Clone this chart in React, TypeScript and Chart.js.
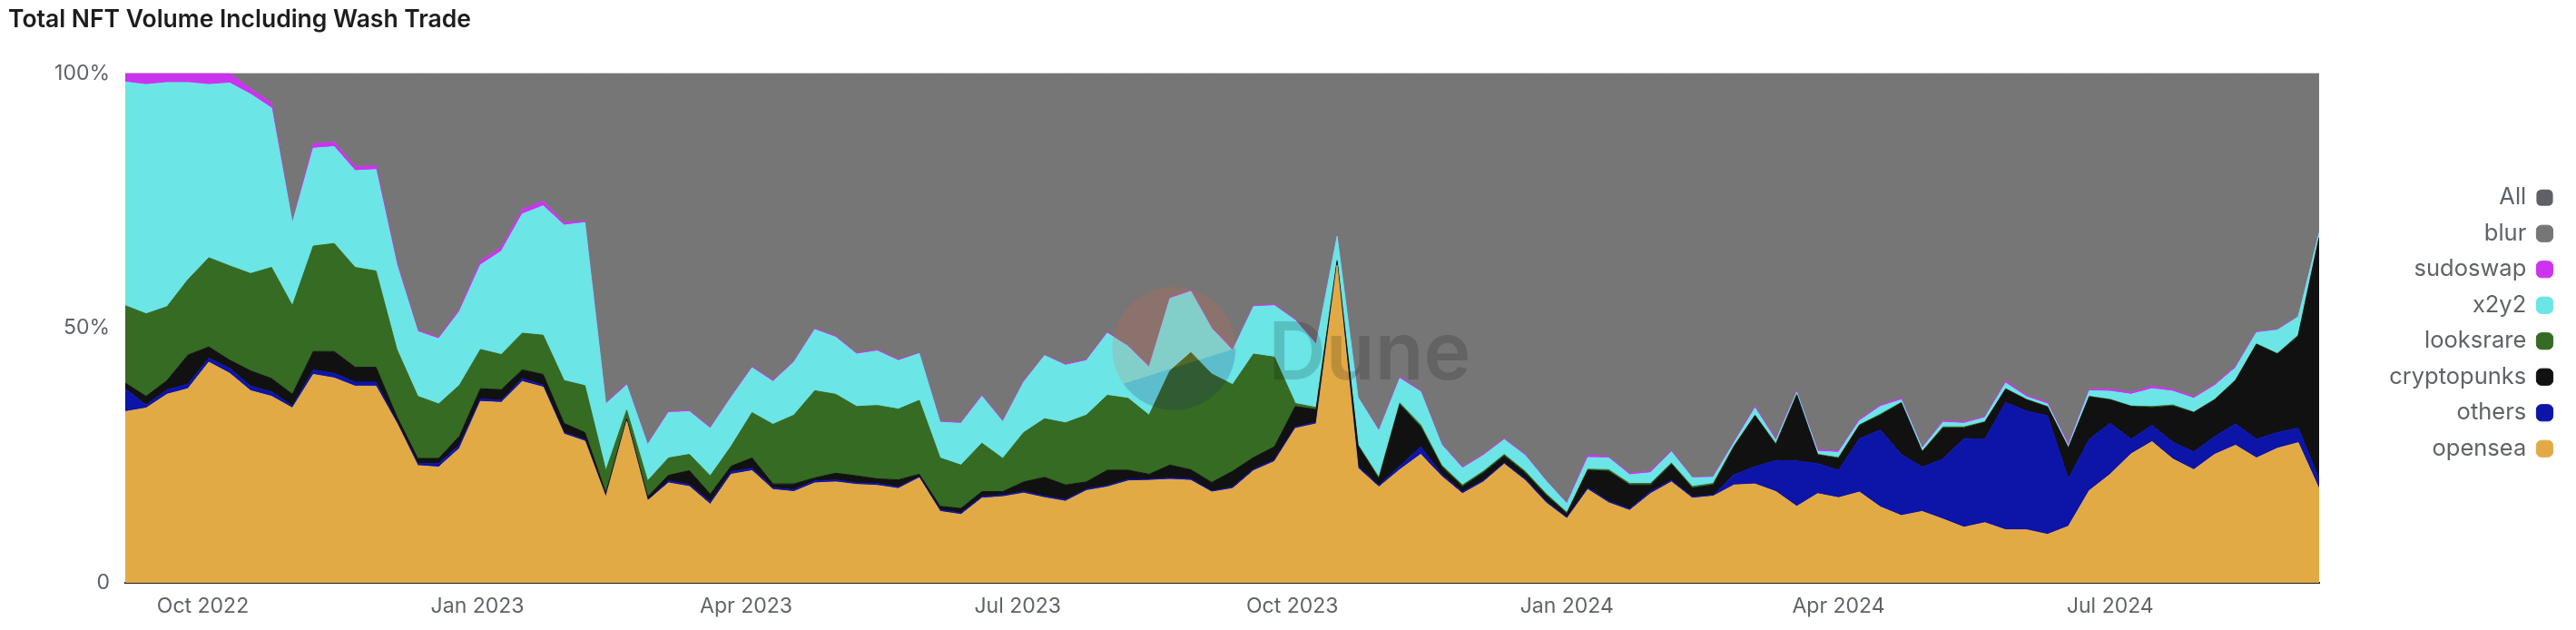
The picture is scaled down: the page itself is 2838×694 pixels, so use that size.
import React, { useEffect, useRef } from "react";
import { Chart, registerables } from "chart.js";

Chart.register(...registerables);

const TITLE = "Total NFT Volume Including Wash Trade";

// weekly categories (Monday of each week)
const FIRST_WEEK = Date.UTC(2022, 8, 5);
const WEEKS: string[] = Array.from({ length: 106 }, (_, i) =>
  new Date(FIRST_WEEK + i * 7 * 86400000).toISOString().slice(0, 10)
);

const X_TICK_DATES = ["2022-10-01", "2023-01-01", "2023-04-01", "2023-07-01", "2023-10-01", "2024-01-01", "2024-04-01", "2024-07-01"];
const X_TICK_LABELS = ["Oct 2022", "Jan 2023", "Apr 2023", "Jul 2023", "Oct 2023", "Jan 2024", "Apr 2024", "Jul 2024"];
const Y_TICK_VALUES = [0, 50, 100];
const Y_TICK_LABELS = ["0", "50%", "100%"];

// share of weekly volume (%)
const OPENSEA = [
  33.6, 34.3, 37.0, 38.1, 43.3, 41.1, 37.7, 36.6, 34.3, 40.9,
  40.2, 38.6, 38.6, 31.3, 23.0, 22.7, 26.4, 35.6, 35.4, 39.5,
  38.4, 29.2, 27.8, 16.8, 31.7, 16.1, 19.6, 18.9, 15.4, 21.3,
  22.0, 18.3, 17.9, 19.6, 19.8, 19.3, 19.1, 18.5, 20.6, 14.0,
  13.4, 16.6, 16.9, 17.6, 16.7, 16.0, 18.1, 18.8, 20.0, 20.1,
  20.3, 20.1, 17.8, 18.5, 22.0, 23.8, 30.3, 31.2, 62.3, 22.5,
  18.8, 22.2, 25.2, 20.9, 17.5, 19.8, 23.3, 20.1, 15.7, 12.6,
  18.3, 15.7, 14.2, 17.5, 19.8, 16.6, 17.0, 19.2, 19.4, 17.9,
  15.0, 17.5, 16.7, 17.8, 14.9, 13.2, 14.0, 12.5, 10.9, 11.8,
  10.4, 10.4, 9.5, 11.1, 18.1, 21.3, 25.3, 27.7, 24.3, 22.2,
  25.2, 27.0, 24.5, 26.4, 27.5, 18.4,
];
const OTHERS = [
  4.5, 0.6, 0.9, 0.9, 0.8, 1.0, 0.9, 0.9, 0.4, 0.9,
  0.9, 0.8, 0.8, 0.3, 0.4, 0.7, 0.7, 0.5, 0.4, 0.6,
  0.4, 0.3, 0.3, 0.2, 0.2, 0.1, 0.4, 0.4, 0.5, 0.5,
  0.5, 0.3, 0.4, 0.4, 0.4, 0.3, 0.4, 0.3, 0.2, 0.3,
  0.3, 0.3, 0.3, 0.3, 0.3, 0.3, 0.3, 0.3, 0.3, 0.2,
  0.3, 0.3, 0.2, 0.3, 0.3, 0.3, 0.3, 0.3, 0.3, 0.4,
  0.3, 0.7, 1.5, 0.4, 0.3, 0.3, 0.2, 0.3, 0.3, 0.2,
  0.3, 0.3, 0.3, 0.4, 0.3, 0.3, 0.2, 2.0, 3.4, 6.1,
  8.9, 5.9, 5.4, 10.5, 15.1, 12.0, 8.7, 11.8, 17.4, 16.4,
  25.0, 23.3, 23.3, 9.3, 10.1, 10.0, 2.9, 3.2, 3.3, 3.5,
  3.5, 4.2, 3.7, 3.1, 2.9, 1.9,
];
const CRYPTOPUNKS = [
  1.1, 1.7, 1.8, 5.7, 2.2, 1.6, 3.0, 2.6, 2.3, 3.6,
  4.3, 2.9, 2.9, 1.0, 1.0, 1.0, 1.7, 2.0, 2.1, 1.7,
  2.1, 1.8, 1.4, 0.6, 0.3, 0.7, 1.1, 2.7, 1.5, 1.1,
  2.0, 0.8, 1.1, 0.6, 1.3, 1.4, 0.9, 1.4, 0.5, 0.7,
  0.9, 1.0, 0.7, 1.9, 3.7, 2.9, 1.4, 3.0, 1.8, 1.0,
  2.5, 1.8, 1.7, 3.1, 2.3, 2.6, 4.0, 2.5, 0.4, 4.0,
  1.3, 12.1, 3.9, 1.5, 1.1, 1.5, 1.4, 1.2, 1.2, 0.8,
  3.5, 5.9, 4.7, 1.3, 3.2, 1.7, 2.0, 5.5, 10.0, 3.1,
  12.9, 1.7, 2.3, 2.6, 2.9, 10.1, 3.0, 6.1, 2.1, 3.3,
  2.6, 2.2, 1.7, 6.0, 8.3, 4.6, 6.4, 3.5, 7.1, 7.7,
  7.2, 8.5, 18.6, 15.4, 18.0, 47.4,
];
const LOOKSRARE = [
  15.2, 16.2, 14.5, 14.8, 17.5, 18.5, 19.1, 21.8, 17.4, 20.7,
  21.2, 19.6, 18.9, 13.2, 12.2, 10.7, 10.0, 7.7, 6.9, 7.2,
  7.7, 8.4, 9.2, 4.4, 1.7, 3.1, 3.4, 3.2, 3.6, 3.9,
  8.9, 11.7, 13.5, 17.1, 15.5, 13.6, 14.4, 13.9, 14.5, 9.5,
  8.5, 9.5, 6.5, 9.7, 11.5, 12.2, 13.1, 14.7, 14.1, 11.6,
  18.5, 23.0, 21.3, 17.0, 20.3, 17.6, 0.6, 0.4, 0.3, 0.2,
  0.3, 0.3, 0.4, 0.3, 0.3, 0.3, 0.3, 0.3, 0.3, 0.2,
  0.2, 0.3, 0.3, 0.3, 0.2, 0.3, 0.3, 0.2, 0.1, 0.2,
  0.2, 0.1, 0.2, 0.1, 0.2, 0.1, 0.1, 0.2, 0.2, 0.1,
  0.1, 0.1, 0.1, 0.1, 0.1, 0.1, 0.1, 0.2, 0.2, 0.1,
  0.1, 0.1, 0.1, 0.1, 0.2, 0.1,
];
const X2Y2 = [
  43.9, 45.0, 44.0, 38.7, 34.0, 35.9, 35.2, 31.3, 16.2, 19.2,
  19.0, 19.0, 19.9, 16.6, 12.7, 12.8, 14.5, 16.6, 20.3, 23.4,
  25.4, 30.5, 32.0, 13.1, 4.9, 7.1, 8.9, 8.4, 9.3, 9.6,
  8.8, 8.4, 10.4, 12.0, 11.2, 10.3, 10.7, 9.5, 9.2, 7.0,
  8.2, 9.2, 7.2, 9.9, 12.4, 11.3, 10.7, 12.2, 10.2, 9.4,
  14.2, 12.0, 8.9, 6.7, 9.3, 10.1, 16.3, 12.4, 4.7, 9.3,
  9.1, 4.8, 6.5, 4.0, 3.3, 3.1, 2.9, 3.1, 2.5, 1.7,
  2.3, 2.3, 1.7, 2.1, 2.2, 1.7, 1.2, 0.6, 1.4, 0.6,
  0.4, 0.6, 1.0, 0.8, 1.5, 0.5, 0.6, 0.9, 0.7, 0.8,
  1.1, 0.5, 0.5, 0.4, 1.1, 1.6, 2.3, 3.5, 2.7, 2.7,
  2.7, 2.4, 2.2, 4.6, 3.6, 0.9,
];
const SUDOSWAP = [
  1.7, 2.2, 1.8, 1.8, 2.2, 1.9, 1.1, 1.0, 0.2, 0.9,
  0.9, 0.8, 0.8, 0.5, 0.3, 0.3, 0.4, 0.8, 0.8, 0.9,
  0.9, 0.5, 0.3, 0.2, 0.2, 0.2, 0.2, 0.2, 0.2, 0.2,
  0.2, 0.2, 0.2, 0.2, 0.2, 0.2, 0.2, 0.2, 0.1, 0.2,
  0.2, 0.2, 0.2, 0.2, 0.1, 0.2, 0.2, 0.2, 0.1, 0.2,
  0.2, 0.2, 0.2, 0.2, 0.2, 0.2, 0.2, 0.2, 0.1, 0.1,
  0.2, 0.3, 0.2, 0.2, 0.2, 0.2, 0.2, 0.2, 0.1, 0.2,
  0.5, 0.2, 0.3, 0.3, 0.2, 0.1, 0.2, 0.2, 0.3, 0.3,
  0.2, 0.3, 0.3, 0.3, 0.3, 0.3, 0.2, 0.3, 0.3, 0.2,
  0.4, 0.3, 0.3, 0.4, 0.3, 0.4, 0.4, 0.5, 0.4, 0.3,
  0.3, 0.3, 0.2, 0.1, 0.1, 0.1,
];
const BLUR = [
  0, 0, 0, 0, 0, 0, 3.0, 5.8, 29.2, 13.8,
  13.5, 18.3, 18.1, 37.1, 50.4, 51.8, 46.3, 36.8, 34.1, 26.7,
  25.1, 29.3, 29.0, 64.7, 61.0, 72.7, 66.4, 66.2, 69.5, 63.4,
  57.6, 60.3, 56.5, 50.1, 51.6, 54.9, 54.3, 56.2, 54.9, 68.3,
  68.5, 63.2, 68.2, 60.4, 55.3, 57.1, 56.2, 50.8, 53.5, 57.5,
  44.0, 42.6, 49.9, 54.2, 45.6, 45.4, 48.3, 53.0, 31.9, 63.5,
  70.0, 59.6, 62.3, 72.7, 77.3, 74.8, 71.7, 74.8, 79.9, 84.3,
  74.9, 75.3, 78.5, 78.1, 74.1, 79.3, 79.1, 72.3, 65.4, 71.8,
  62.4, 73.9, 74.1, 67.9, 65.1, 63.8, 73.4, 68.2, 68.4, 67.4,
  60.4, 63.2, 64.6, 72.7, 62.0, 62.0, 62.6, 61.4, 62.0, 63.5,
  61.0, 57.5, 50.7, 50.3, 47.7, 31.2,
];

const SERIES_NAMES = ["opensea", "others", "cryptopunks", "looksrare", "x2y2", "sudoswap", "blur"];
const SERIES_VALUES = [OPENSEA, OTHERS, CRYPTOPUNKS, LOOKSRARE, X2Y2, SUDOSWAP, BLUR];
const SERIES_COLORS = ["#E2AA45", "#0D14A8", "#111111", "#356B22", "#6BE5E5", "#CC33EE", "#767676"];
const ALL_NAME = "All";
const ALL_COLOR = "#5F6166";

const FONT = "Inter";
const TEXT_GRAY = "#5f6368";
const LEGEND_FONT_SIZE = 25.5;
const PLOT_RIGHT = 2552;

const DAY_MS = 86400000;
const dayOf = (iso: string) => (Date.parse(iso + "T00:00:00Z") - FIRST_WEEK) / DAY_MS;

const watermark = {
  id: "duneWatermark",
  afterDatasetsDraw(chart: any) {
    const { ctx, chartArea: a } = chart;
    const w = a.right - a.left;
    const h = a.bottom - a.top;
    const cx = a.left + 0.478 * w;
    const cy = a.top + 0.54 * h;
    const r = 0.121 * h;
    const split = (145 * Math.PI) / 180;
    ctx.save();
    ctx.beginPath();
    ctx.arc(cx, cy, r, split, Math.PI * 2);
    ctx.closePath();
    ctx.fillStyle = "rgba(244,96,62,0.17)";
    ctx.fill();
    ctx.beginPath();
    ctx.arc(cx, cy, r, 0, split);
    ctx.closePath();
    ctx.fillStyle = "rgba(36,34,108,0.2)";
    ctx.fill();
    ctx.font = `600 88px ${FONT}`;
    ctx.fillStyle = "rgba(0,0,0,0.16)";
    ctx.textBaseline = "alphabetic";
    ctx.fillText("Dune", a.left + 0.521 * w, a.top + 0.6 * h);
    ctx.restore();
  },
};

export default function App() {
  const canvasRef = useRef<HTMLCanvasElement | null>(null);

  useEffect(() => {
    if (!canvasRef.current) return;
    const datasets: any[] = SERIES_NAMES.map((name, idx) => ({
      label: name,
      data: SERIES_VALUES[idx].map((v, i) => ({ x: dayOf(WEEKS[i]), y: v })),
      backgroundColor: SERIES_COLORS[idx],
      borderColor: SERIES_COLORS[idx],
      borderWidth: 1,
      fill: idx === 0 ? "origin" : "-1",
      pointRadius: 0,
      tension: 0,
    }));
    datasets.push({
      label: ALL_NAME,
      data: [],
      backgroundColor: ALL_COLOR,
      borderColor: ALL_COLOR,
      borderWidth: 0,
      fill: false,
      pointRadius: 0,
    });

    const legendNames = [ALL_NAME, ...SERIES_NAMES];

    const chart = new Chart(canvasRef.current, {
      type: "line",
      data: { datasets },
      plugins: [watermark],
      options: {
        animation: false,
        responsive: true,
        maintainAspectRatio: false,
        layout: { padding: { left: 9, right: 13, top: 0, bottom: 0 } },
        font: { family: FONT },
        plugins: {
          title: {
            display: true,
            text: TITLE,
            align: "start",
            color: "#1d1d1f",
            font: { family: FONT, size: 26.5, weight: "600" },
            padding: { top: 6, bottom: 43 },
          },
          legend: {
            position: "right",
            align: "center",
            reverse: true,
            rtl: true,
            title: { display: true, text: " ", padding: 3, font: { size: 10 } },
            labels: {
              usePointStyle: true,
              pointStyle: "rectRounded",
              boxWidth: 15,
              boxHeight: 15,
              padding: 14,
              color: TEXT_GRAY,
              font: { family: FONT, size: LEGEND_FONT_SIZE },
            },
          },
          tooltip: { enabled: false },
        },
        scales: {
          x: {
            type: "linear",
            min: 0,
            max: dayOf(WEEKS[WEEKS.length - 1]),
            z: 1,
            grid: { display: false, drawTicks: false },
            border: { display: true, color: "#1e1e1e", width: 2 },
            afterBuildTicks: (axis: any) => {
              axis.ticks = X_TICK_DATES.map((d) => ({ value: dayOf(d) }));
            },
            afterFit: (axis: any) => {
              axis.height = 52;
            },
            ticks: {
              autoSkip: false,
              maxRotation: 0,
              padding: 12,
              color: TEXT_GRAY,
              font: { family: FONT, size: 23 },
              callback: (value: any) => {
                const idx = X_TICK_DATES.findIndex((d) => dayOf(d) === value);
                return idx >= 0 ? X_TICK_LABELS[idx] : "";
              },
            },
          },
          y: {
            stacked: true,
            min: 0,
            max: 100,
            grid: { color: "#e3e3e3", drawTicks: false },
            border: { display: false },
            afterBuildTicks: (axis: any) => {
              axis.ticks = Y_TICK_VALUES.map((v) => ({ value: v }));
            },
            afterFit: (axis: any) => {
              axis.width = 129;
            },
            ticks: {
              padding: 17,
              color: TEXT_GRAY,
              font: { family: FONT, size: 23 },
              callback: (value: any) => {
                const idx = Y_TICK_VALUES.indexOf(value);
                return idx >= 0 ? Y_TICK_LABELS[idx] : "";
              },
            },
          },
          spacer: {
            type: "linear",
            position: "right",
            display: true,
            grid: { display: false, drawTicks: false },
            border: { display: false },
            ticks: { display: false },
            afterFit: (axis: any) => {
              const ctx = axis.ctx;
              ctx.save();
              ctx.font = `normal ${LEGEND_FONT_SIZE}px ${FONT}`;
              const maxText = Math.max(...legendNames.map((n) => ctx.measureText(n).width));
              ctx.restore();
              const legendLeft = axis.chart.width - 13 - 15 - 15 - LEGEND_FONT_SIZE / 2 - maxText;
              axis.width = Math.max(0, legendLeft - PLOT_RIGHT - 12);
            },
          },
        },
      } as any,
    });
    return () => chart.destroy();
  }, []);

  return (
    <div style={{ position: "fixed", left: 0, top: 0, width: 2838, height: 694, background: "#ffffff" }}>
      <canvas ref={canvasRef} />
    </div>
  );
}
